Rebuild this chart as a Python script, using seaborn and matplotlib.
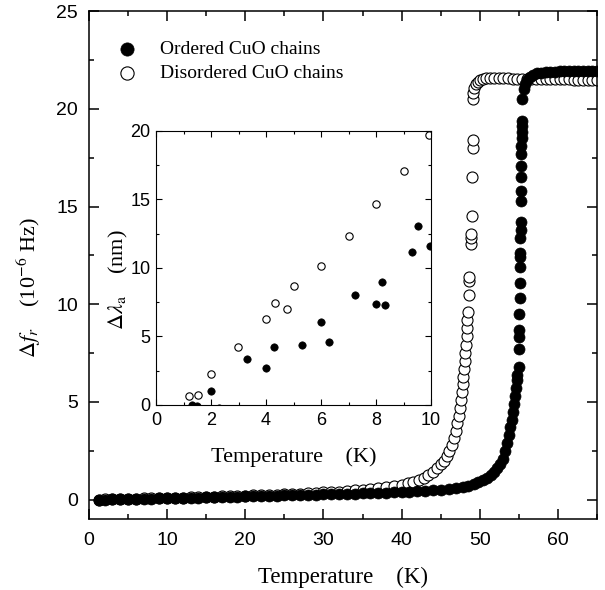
import matplotlib
matplotlib.use("Agg")
import matplotlib.pyplot as plt
import seaborn as sns

# main panel: resonance frequency shift vs temperature
ordered_T = [1.3, 2, 3, 4, 5, 6, 7, 8, 9, 10, 11, 12, 13, 14, 15, 16, 17, 18, 19, 20,
             21, 22, 23, 24, 25, 26, 27, 28, 29, 30, 31, 32, 33, 34, 35, 36, 37, 38, 39, 40,
             41, 42, 43, 44, 45, 46, 47, 47.8, 48.5, 49.2, 49.8, 50.4, 50.9, 51.4, 51.8,
             52.2, 52.6, 52.9, 53.2, 53.5, 53.7, 53.9, 54.1, 54.3, 54.4, 54.5, 54.6, 54.7, 54.8,
             54.95, 55.0, 55.0, 55.05, 55.05, 55.1, 55.1, 55.1, 55.15, 55.15, 55.15, 55.2, 55.2,
             55.25, 55.25, 55.25, 55.3, 55.3, 55.3, 55.35, 55.35, 55.35, 55.4, 55.45,
             55.6, 55.8, 56.0, 56.4, 56.8, 57.3, 57.8, 58.4, 59.0, 59.6, 60.2, 60.8, 61.4,
             62.0, 62.6, 63.2, 63.8, 64.4, 65.0]
ordered_df = [0.0, 0.0, 0.01, 0.02, 0.02, 0.03, 0.04, 0.05, 0.06, 0.07, 0.08, 0.09, 0.1, 0.11,
              0.12, 0.13, 0.14, 0.15, 0.16, 0.17, 0.18, 0.19, 0.2, 0.21, 0.22, 0.23, 0.24, 0.25,
              0.26, 0.27, 0.28, 0.29, 0.3, 0.31, 0.32, 0.33, 0.35, 0.36, 0.37, 0.39, 0.41, 0.43,
              0.46, 0.49, 0.52, 0.56, 0.61, 0.66, 0.72, 0.8, 0.9, 1.0, 1.1, 1.25, 1.4,
              1.6, 1.85, 2.1, 2.5, 2.9, 3.3, 3.7, 4.1, 4.5, 4.9, 5.3, 5.7, 6.1, 6.4,
              6.8, 7.7, 8.3, 8.7, 9.5, 10.3, 11.1, 11.9, 12.4, 12.6, 13.4, 13.8, 14.2,
              15.3, 15.8, 16.5, 17.1, 17.7, 18.1, 18.5, 18.8, 19.1, 19.4, 20.5,
              21.0, 21.3, 21.5, 21.65, 21.75, 21.82, 21.86, 21.88, 21.9, 21.9, 21.92, 21.92, 21.93,
              21.93, 21.94, 21.94, 21.95, 21.95, 21.95]

disordered_T = [1.3, 2, 3, 4, 5, 6, 7, 8, 9, 10, 11, 12, 13, 14, 15, 16, 17, 18, 19, 20,
                21, 22, 23, 24, 25, 26, 27, 28, 29, 30, 31, 32, 33, 34, 35, 36, 37, 38, 39, 40,
                40.8, 41.5, 42.2, 42.8, 43.4, 44.0, 44.5, 45.0, 45.4, 45.8, 46.1, 46.4, 46.7,
                46.9, 47.1, 47.3, 47.45, 47.6, 47.7, 47.8, 47.9, 48.0, 48.05, 48.1, 48.2,
                48.3, 48.35, 48.4, 48.45, 48.55, 48.6, 48.65, 48.85, 48.9, 48.9, 48.95,
                49.05, 49.1, 49.1, 49.1, 49.15, 49.25, 49.45, 49.7, 50.0, 50.4, 50.8, 51.3,
                51.8, 52.4, 53.0, 53.6, 54.2, 54.8, 55.4, 56.0, 56.6, 57.2, 57.8, 58.4, 59.0,
                59.6, 60.2, 60.8, 61.4, 62.0, 62.6, 63.2, 63.8, 64.4, 65.0]
disordered_df = [0.0, 0.01, 0.02, 0.03, 0.04, 0.05, 0.06, 0.07, 0.08, 0.09, 0.1, 0.11, 0.12,
                 0.13, 0.14, 0.16, 0.17, 0.18, 0.19, 0.21, 0.22, 0.23, 0.25, 0.26, 0.28, 0.29,
                 0.31, 0.33, 0.35, 0.37, 0.39, 0.41, 0.44, 0.47, 0.5, 0.54, 0.58, 0.63, 0.69, 0.76,
                 0.83, 0.92, 1.02, 1.13, 1.26, 1.42, 1.6, 1.8, 2.0, 2.25, 2.5, 2.8, 3.15,
                 3.5, 3.9, 4.3, 4.7, 5.1, 5.5, 5.9, 6.3, 6.7, 7.1, 7.5, 7.9,
                 8.4, 8.8, 9.2, 9.6, 10.5, 11.2, 11.4, 13.1, 13.4, 13.6, 14.5,
                 16.5, 18.0, 18.4, 20.5, 20.8, 21.05, 21.25, 21.4, 21.48, 21.53, 21.56, 21.57,
                 21.57, 21.57, 21.56, 21.56, 21.55, 21.55, 21.54, 21.54, 21.53, 21.53, 21.53, 21.52,
                 21.52, 21.52, 21.51, 21.51, 21.51, 21.5, 21.5, 21.5, 21.5, 21.5, 21.5]

# inset: penetration depth change at low temperature
inset_ord_T = [1.3, 1.48, 1.99, 2.27, 3.3, 4.0, 4.3, 5.3, 6.0, 6.3, 7.25, 8.0, 8.22, 8.32,
               9.32, 9.52, 9.96]
inset_ord_dl = [0.0, -0.05, 1.05, -0.2, 3.38, 2.73, 4.26, 4.36, 6.08, 4.62, 8.03, 7.35, 9.0,
                7.3, 11.19, 13.09, 11.6]
inset_dis_T = [1.2, 1.52, 1.99, 2.99, 4.0, 4.34, 4.76, 5.0, 6.0, 7.0, 8.0, 9.0, 9.93]
inset_dis_dl = [0.68, 0.73, 2.24, 4.21, 6.28, 7.47, 7.0, 8.68, 10.17, 12.36, 14.7, 17.1, 19.7]

sns.set_style("ticks", {"axes.edgecolor": "black", "xtick.color": "black",
                        "ytick.color": "black", "text.color": "black",
                        "axes.labelcolor": "black"})
plt.rcParams["font.family"] = ["Liberation Sans", "DejaVu Sans"]
plt.rcParams["mathtext.fontset"] = "stix"

serif = ["Liberation Serif", "DejaVu Serif"]

fig = plt.figure(figsize=(6.05, 5.9), dpi=100)
ax = fig.add_axes([0.147, 0.120, 0.840, 0.861])

sns.scatterplot(x=disordered_T, y=disordered_df, ax=ax, s=63, color="white",
                edgecolor="black", linewidth=0.8, label="Disordered CuO chains", zorder=2)
sns.scatterplot(x=ordered_T, y=ordered_df, ax=ax, s=63, color="black",
                edgecolor="black", linewidth=0.5, label="Ordered CuO chains", zorder=3)

ax.set_xlim(0, 65)
ax.set_ylim(-1, 25)
ax.set_xticks(range(0, 61, 10))
ax.set_xticks(range(5, 66, 10), minor=True)
ax.set_yticks(range(0, 26, 5))
ax.set_yticks([2.5, 7.5, 12.5, 17.5, 22.5], minor=True)
ax.tick_params(which="both", direction="in", top=True, right=True, width=1.1,
               labelsize=14)
ax.tick_params(which="major", length=7)
ax.tick_params(which="minor", length=3.6)
ax.tick_params(axis="x", pad=9)
ax.tick_params(axis="y", pad=8)
for sp in ax.spines.values():
    sp.set_linewidth(1.1)

ax.set_xlabel("Temperature    (K)", fontfamily=serif, fontsize=16.5)
ax.xaxis.set_label_coords(0.5, -0.094)
ax.set_ylabel(r"$\Delta f_r$    (10$^{-6}$ Hz)", fontfamily=serif, fontsize=16)
ax.yaxis.set_label_coords(-0.09, 0.457)

h, l = ax.get_legend_handles_labels()
ax.legend(h[::-1], l[::-1], loc="upper left", bbox_to_anchor=(0.055, 0.943),
          borderaxespad=0, borderpad=0, frameon=False, handlelength=1.0,
          handletextpad=1.2, labelspacing=0.35, markerscale=1.2,
          prop={"family": serif, "size": 14})

axin = fig.add_axes([0.258, 0.3136, 0.4545, 0.4645])
sns.scatterplot(x=inset_dis_T, y=inset_dis_dl, ax=axin, s=28, color="white",
                edgecolor="black", linewidth=0.8, zorder=2)
sns.scatterplot(x=inset_ord_T, y=inset_ord_dl, ax=axin, s=28, color="black",
                edgecolor="black", linewidth=0.5, zorder=3)
axin.set_xlim(0, 10)
axin.set_ylim(0, 20)
axin.set_xticks(range(0, 11, 2))
axin.set_xticks(range(1, 10, 2), minor=True)
axin.set_yticks(range(0, 21, 5))
axin.set_yticks([2.5, 7.5, 12.5, 17.5], minor=True)
axin.tick_params(which="both", direction="in", top=True, right=True, width=0.8,
                 labelsize=13)
axin.tick_params(which="major", length=4)
axin.tick_params(which="minor", length=2.5)
axin.tick_params(axis="x", pad=5)
axin.tick_params(axis="y", pad=4)
for sp in axin.spines.values():
    sp.set_linewidth(0.8)
axin.set_xlabel("Temperature    (K)", fontfamily=serif, fontsize=16)
axin.xaxis.set_label_coords(0.5, -0.153)
axin.set_ylabel(r"$\Delta\lambda_{\rm a}$    (nm)", fontfamily=serif, fontsize=16)
axin.yaxis.set_label_coords(-0.095, 0.456)

fig.savefig("out.png", dpi=100)
